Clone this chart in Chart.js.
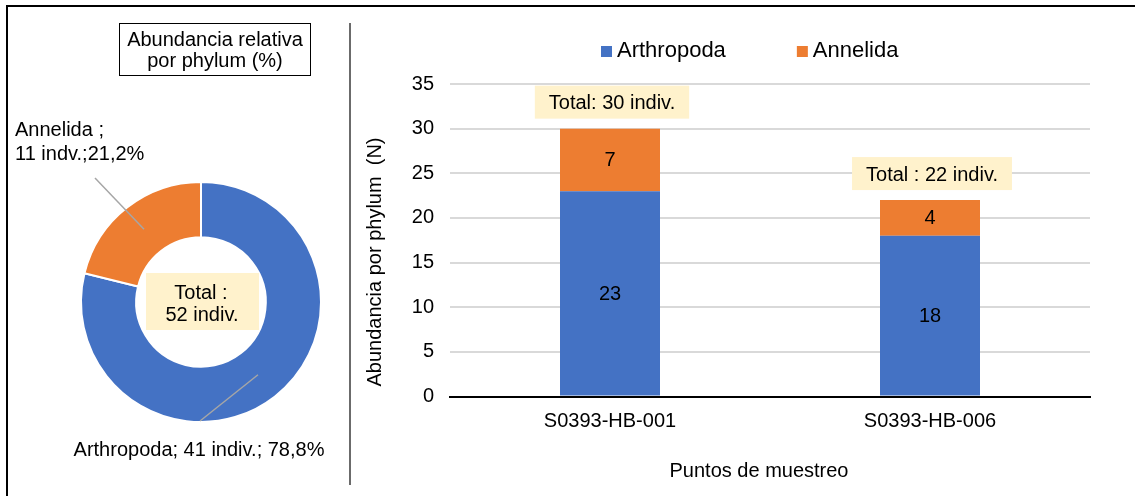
<!DOCTYPE html>
<html><head><meta charset="utf-8">
<script src="https://cdn.jsdelivr.net/npm/chart.js@4.4.1/dist/chart.umd.min.js"></script>
<style>
html,body{margin:0;padding:0;background:#fff;width:1135px;height:496px;overflow:hidden;font-family:'Liberation Sans',Arial,sans-serif;}
#frameTop{position:absolute;left:6px;top:5px;width:1129px;height:2px;background:#000;}
#frameLeft{position:absolute;left:6px;top:5px;width:2px;height:491px;background:#000;}
#sep{position:absolute;left:349px;top:23px;width:2px;height:462px;background:#6b6b6b;}
#titleBox{position:absolute;left:119px;top:23px;width:190px;height:46px;padding-top:5px;border:1.5px solid #000;text-align:center;font-size:20px;line-height:21px;color:#000;}
#pie{position:absolute;left:8px;top:8px;}
#bar{position:absolute;left:352px;top:8px;}
</style></head>
<body>
<div id="frameTop"></div><div id="frameLeft"></div><div id="sep"></div>
<canvas id="pie" width="340" height="488"></canvas>
<canvas id="bar" width="783" height="488"></canvas>
<div id="titleBox">Abundancia relativa<br>por phylum (%)</div>
<script>
// ---- data ----
const pieCategories = ['Arthropoda', 'Annelida'];
const pieValues = [41, 11];
const barCategories = ['S0393-HB-001', 'S0393-HB-006'];
const arthropodaValues = [23, 18];
const annelidaValues = [7, 4];
const yTicks = [0, 5, 10, 15, 20, 25, 30, 35];
const totalPrefix = ['Total: ', 'Total : '];

const FONT = "'Liberation Sans', Arial, sans-serif";
Chart.defaults.font.family = FONT;
const BLUE = '#4472C4', ORANGE = '#ED7D31', BOXFILL = '#FFF2CC';

// ---- doughnut ----
const pieLabelFormat = [
  (n, v, p) => [n + '; ' + v + ' indiv.; ' + p + '%'],
  (n, v, p) => [n + ' ;', v + ' indv.;' + p + '%']
];
const pieLabelLayout = [
  {x: 191, y: 442, align: 'center', endX: 192, endY: 413, lh: 24},
  {x: 7, y: 122, align: 'left', endX: 87, endY: 170, lh: 24}
];
const pieAnnot = {
  id: 'pieAnnot',
  afterDatasetsDraw(chart) {
    const ctx = chart.ctx;
    const meta = chart.getDatasetMeta(0);
    const vals = chart.data.datasets[0].data;
    const total = vals.reduce((a, b) => a + b, 0);
    ctx.save();
    meta.data.forEach((arc, i) => {
      const p = arc.getProps(['x', 'y', 'startAngle', 'endAngle', 'innerRadius', 'outerRadius'], true);
      const mid = (p.startAngle + p.endAngle) / 2;
      const r = (p.innerRadius + p.outerRadius) / 2;
      const sx = p.x + Math.cos(mid) * r, sy = p.y + Math.sin(mid) * r;
      const L = pieLabelLayout[i];
      ctx.strokeStyle = '#A6A6A6'; ctx.lineWidth = 1.5;
      ctx.beginPath(); ctx.moveTo(sx, sy); ctx.lineTo(L.endX, L.endY); ctx.stroke();
      const pct = (vals[i] / total * 100).toFixed(1).replace('.', ',');
      const lines = pieLabelFormat[i](chart.data.labels[i], vals[i], pct);
      ctx.fillStyle = '#000'; ctx.font = '20px ' + FONT;
      ctx.textAlign = L.align; ctx.textBaseline = 'middle';
      lines.forEach((t, k) => ctx.fillText(t, L.x, L.y + k * L.lh));
    });
    const c = meta.data[0];
    ctx.fillStyle = BOXFILL;
    ctx.fillRect(c.x - 55, c.y - 29, 113, 57);
    ctx.fillStyle = '#000'; ctx.font = '20px ' + FONT;
    ctx.textAlign = 'center'; ctx.textBaseline = 'middle';
    ctx.fillText('Total :', c.x, c.y - 9);
    ctx.fillText(total + ' indiv.', c.x + 1, c.y + 13);
    ctx.restore();
  }
};
new Chart(document.getElementById('pie'), {
  type: 'doughnut',
  data: {
    labels: pieCategories,
    datasets: [{data: pieValues, backgroundColor: [BLUE, ORANGE], borderColor: '#fff', borderWidth: 2, hoverOffset: 0}]
  },
  options: {
    responsive: false, animation: false, devicePixelRatio: 1,
    cutout: '54%',
    layout: {padding: {left: 72, right: 26, top: 173, bottom: 73}},
    plugins: {legend: {display: false}, tooltip: {enabled: false}}
  },
  plugins: [pieAnnot]
});

// ---- stacked bars ----
const legendLayout = {x: 249, yBox: 38, yText: 43, gap: 71};
const barAnnot = {
  id: 'barAnnot',
  afterDatasetsDraw(chart) {
    const ctx = chart.ctx;
    const xs = chart.scales.x, ys = chart.scales.y;
    ctx.save();
    ctx.font = '20px ' + FONT; ctx.textAlign = 'center'; ctx.textBaseline = 'middle'; ctx.fillStyle = '#000';
    chart.data.datasets.forEach((ds, di) => {
      chart.getDatasetMeta(di).data.forEach((bar, i) => {
        const p = bar.getProps(['x', 'y', 'base'], true);
        ctx.fillText(String(ds.data[i]), p.x, (p.y + p.base) / 2 + 1);
      });
    });
    chart.data.labels.forEach((c, i) => {
      const total = chart.data.datasets.reduce((s, ds) => s + ds.data[i], 0);
      const txt = totalPrefix[i] + total + ' indiv.';
      const cx = xs.getPixelForValue(i) + 2;
      const cy = ys.getPixelForValue(total) - 25;
      const w = ctx.measureText(txt).width;
      ctx.fillStyle = BOXFILL; ctx.fillRect(cx - w / 2 - 14, cy - 18, w + 28, 33);
      ctx.fillStyle = '#000'; ctx.fillText(txt, cx, cy);
    });
    // legend
    ctx.font = '22px ' + FONT; ctx.textAlign = 'left'; ctx.textBaseline = 'middle';
    let lx = legendLayout.x;
    chart.data.datasets.forEach(ds => {
      ctx.fillStyle = ds.backgroundColor; ctx.fillRect(lx, legendLayout.yBox, 11, 11);
      ctx.fillStyle = '#000'; ctx.fillText(ds.label, lx + 16, legendLayout.yText);
      lx += 16 + ctx.measureText(ds.label).width + legendLayout.gap;
    });
    // axis titles
    ctx.font = '20px ' + FONT; ctx.textAlign = 'center'; ctx.textBaseline = 'middle';
    ctx.fillText('Puntos de muestreo', 407, 463);
    ctx.translate(23, 254); ctx.rotate(-Math.PI / 2);
    ctx.fillText('Abundancia por phylum  (N)', 0, 0);
    ctx.restore();
  }
};
new Chart(document.getElementById('bar'), {
  type: 'bar',
  data: {
    labels: barCategories,
    datasets: [
      {label: 'Arthropoda', data: arthropodaValues, backgroundColor: BLUE},
      {label: 'Annelida', data: annelidaValues, backgroundColor: ORANGE}
    ]
  },
  options: {
    responsive: false, animation: false, devicePixelRatio: 1,
    layout: {padding: {left: 0, top: 76, right: 45, bottom: 0}},
    datasets: {bar: {barPercentage: 0.3125, categoryPercentage: 1}},
    plugins: {legend: {display: false}, tooltip: {enabled: false}},
    scales: {
      x: {
        stacked: true,
        grid: {display: false},
        border: {color: '#000', width: 2},
        ticks: {font: {size: 20}, color: '#000', padding: 5},
        afterFit(s) { s.height = 99.5; }
      },
      y: {
        stacked: true, min: 0, max: 35,
        afterBuildTicks(s) { s.ticks = yTicks.map(v => ({value: v})); },
        grid: {color: c => c.tick && c.tick.value === 0 ? '#000' : '#D9D9D9', lineWidth: 2, drawTicks: false},
        border: {display: false},
        ticks: {font: {size: 20}, color: '#000', padding: 16},
        afterFit(s) { s.width = 98; }
      }
    }
  },
  plugins: [barAnnot]
});
</script>
</body></html>
